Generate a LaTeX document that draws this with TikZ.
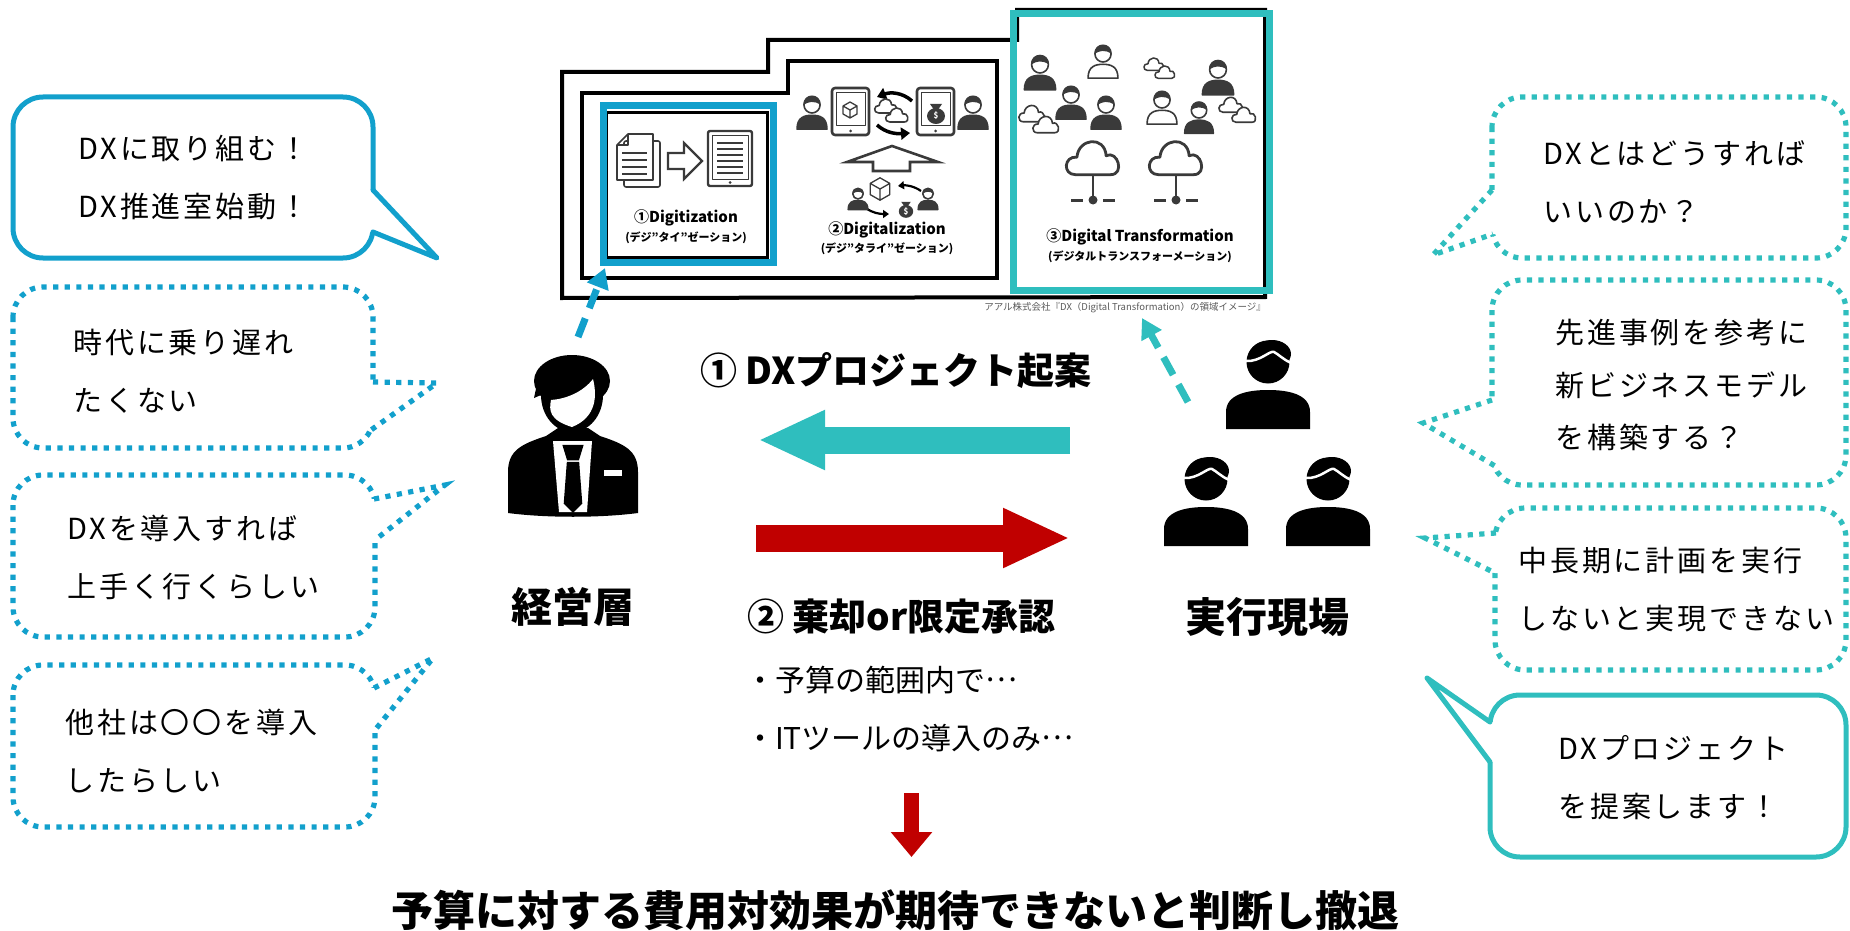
\documentclass[tikz,border=0pt]{standalone}
\usepackage{fontspec}
\setmainfont{Noto Sans CJK JP}
\newfontfamily\bubblefont[LetterSpace=10]{Noto Sans CJK JP}
\usetikzlibrary{arrows.meta}

\definecolor{dxblue}{RGB}{18,160,204}
\definecolor{dxteal}{RGB}{47,190,190}
\definecolor{dxred}{RGB}{192,0,0}
\definecolor{icongray}{RGB}{58,58,58}

\begin{document}
\begin{tikzpicture}[x=1pt,y=-1pt,
  solidbub/.style={line width=5pt,rounded corners=30pt},
  dotbub/.style={line width=5.2pt,dash pattern=on 5.2pt off 6.4pt,rounded corners=30pt},
  solidtail/.style={line width=5pt,line join=round,line cap=round},
  dottail/.style={line width=5.2pt,dash pattern=on 5.2pt off 6.4pt},
  saying/.style={anchor=west,align=left,inner sep=0pt,
    font=\bubblefont\fontsize{29}{58}\selectfont},
  role/.style={inner sep=0pt,font=\bfseries\fontsize{41}{48}\selectfont},
  flowlabel/.style={anchor=west,inner sep=0pt,font=\bfseries\fontsize{37}{44}\selectfont},
  note/.style={anchor=west,inner sep=0pt,font=\fontsize{30}{36}\selectfont},
  stagetitle/.style={inner sep=0pt,font=\bfseries\fontsize{15}{18}\selectfont},
  stagekana/.style={inner sep=0pt,font=\bfseries\fontsize{11}{13}\selectfont},
  blockarrow/.style={line width=27pt,-{Triangle[length=67pt,width=55pt]}},
  pointer/.style={line width=7pt,dash pattern=on 20pt off 11pt,-{Triangle[length=20pt,width=22pt]}},
  icon/.style={icongray,line width=1.6pt,line join=round}]
  \useasboundingbox (0,0) rectangle (1850,931);
  \def\trail{\raisebox{0.32em}{…}}

  % Left: what the management says
  \draw[solidbub,dxblue] (13,97) rectangle (373,258);
  \fill[white] (364,190) -- (373,190) -- (437,258) -- (373,232) -- (364,232) -- cycle;
  \draw[solidtail,dxblue] (373,190) -- (437,258) -- (373,232);
  \node[saying] (aim) at (78,178) {DXに取り組む！\\DX推進室始動！};

  \draw[dotbub,dxblue] (13,287) rectangle (373,448);
  \fill[white] (364,382) -- (373,382) -- (437,383) -- (371,430) -- (364,430) -- cycle;
  \draw[dottail,dxblue] (373,382) -- (437,383) -- (371,430);
  \node[saying] (fear) at (73,371) {時代に乗り遅れ\\たくない};

  \draw[dotbub,dxblue] (13,475) rectangle (375,637);
  \fill[white] (364,499) -- (374,499) -- (445,485) -- (375,540) -- (364,540) -- cycle;
  \draw[dottail,dxblue] (374,499) -- (445,485) -- (375,540);
  \node[saying] (rumour) at (67,557) {DXを導入すれば\\上手く行くらしい};

  \draw[dotbub,dxblue] (13,665) rectangle (375,827);
  \fill[white] (364,688) -- (374,688) -- (433,658) -- (375,730) -- (364,730) -- cycle;
  \draw[dottail,dxblue] (374,688) -- (433,658) -- (375,730);
  \node[saying] (rival) at (65,751) {他社は〇〇を導入\\したらしい};

  % Right: what the staff says
  \draw[dotbub,dxteal] (1492,97) rectangle (1846,258);
  \fill[white] (1501,190) -- (1492,190) -- (1433,255) -- (1493,234) -- (1501,234) -- cycle;
  \draw[dottail,dxteal] (1492,190) -- (1433,255) -- (1493,234);
  \node[saying] (how) at (1543,182) {DXとはどうすれば\\いいのか？};

  \draw[dotbub,dxteal] (1492,280) rectangle (1846,485);
  \fill[white] (1501,400) -- (1492,400) -- (1423,423) -- (1495,466) -- (1503,466) -- cycle;
  \draw[dottail,dxteal] (1492,400) -- (1423,423) -- (1495,466);
  \node[saying,font=\bubblefont\fontsize{29}{52.5}\selectfont] (model) at (1555,385)
    {先進事例を参考に\\新ビジネスモデル\\を構築する？};

  \draw[dotbub,dxteal] (1495,508) rectangle (1846,670);
  \fill[white] (1505,533) -- (1496,533) -- (1425,538) -- (1495,573) -- (1505,573) -- cycle;
  \draw[dottail,dxteal] (1496,533) -- (1425,538) -- (1495,573);
  \node[saying] (plan) at (1518,590) {中長期に計画を実行\\しないと実現できない};

  \draw[solidbub,dxteal] (1490,695) rectangle (1846,857);
  \fill[white] (1499,722) -- (1490,722) -- (1427,678) -- (1490,762) -- (1499,762) -- cycle;
  \draw[solidtail,dxteal] (1490,722) -- (1427,678) -- (1490,762);
  \node[saying] (offer) at (1558,778) {DXプロジェクト\\を提案します！};

  % Stepped frames of the three DX stages
  \draw[line width=4pt] (562,298) -- (562,72) -- (768,72) -- (768,40) -- (1017,40)
    -- (1017,10) -- (1265,10) -- (1265,297) -- cycle;
  \draw[line width=4pt] (582,278) -- (582,93) -- (788,93) -- (788,61) -- (997,61) -- (997,278) -- cycle;
  \draw[line width=3pt] (606,113) rectangle (767,257);

  % Stage 1: paper documents become a digital file
  \draw[icon,fill=white,rounded corners=2pt] (624,141) rectangle (660,187);
  \draw[icon,fill=white] (628,134) -- (653,134) -- (653,180) -- (617,180) -- (617,145) -- cycle
    (617,145) -- (628,145) -- (628,134);
  \foreach \ly in {153,160,167,174} { \draw[icon,line width=1.3pt] (622,\ly) -- (647,\ly); }
  \draw[icon,line width=2.2pt,line join=miter] (668,153) -- (684,153) -- (684,143) -- (702,161)
    -- (684,179) -- (684,169) -- (668,169) -- cycle;
  \draw[icon,line width=2.4pt,rounded corners=2pt] (708,131) rectangle (752,186);
  \draw[icon,line width=1pt] (712,136) rectangle (748,179);
  \foreach \ly in {143,149,155,161,167,173} { \draw[icon,line width=1.2pt] (717,\ly) -- (743,\ly); }
  \fill[icongray] (730,182.5) circle[radius=1.5];
  \node[stagetitle] (digitization) at (686,218) {①Digitization};
  \node[stagekana] (digitizationkana) at (686,238) {(デジ"タイ"ゼーション)};

  % Stage 2: tablets, cloud and trading arrows
  \foreach \tx in {832,917} {
    \draw[icon,line width=2.6pt,rounded corners=3pt] (\tx,88) rectangle ({\tx+37},135);
    \draw[icon,line width=1pt] ({\tx+4},93) rectangle ({\tx+33},126);
    \fill[icongray] ({\tx+18.5},131) circle[radius=1.5];
  }
  \foreach \kx/\ky/\ks in {850/110/1, 880/189/1.4} {
    \draw[icon,line width=1.3pt,fill=white] (\kx,{\ky-8*\ks}) -- ({\kx+7*\ks},{\ky-4*\ks})
      -- ({\kx+7*\ks},{\ky+4*\ks}) -- (\kx,{\ky+8*\ks}) -- ({\kx-7*\ks},{\ky+4*\ks})
      -- ({\kx-7*\ks},{\ky-4*\ks}) -- cycle
      ({\kx-7*\ks},{\ky-4*\ks}) -- (\kx,\ky) -- ({\kx+7*\ks},{\ky-4*\ks}) (\kx,\ky) -- (\kx,{\ky+8*\ks});
  }
  \foreach \gx/\gy/\gs in {936/113/1, 906/209/0.8} {
    \fill[icongray] (\gx,{\gy+3*\gs}) ellipse[x radius=9*\gs,y radius=8*\gs];
    \fill[icongray] ({\gx-6*\gs},{\gy-9*\gs}) -- ({\gx+6*\gs},{\gy-9*\gs})
      -- ({\gx+2.5*\gs},{\gy-4*\gs}) -- ({\gx-2.5*\gs},{\gy-4*\gs}) -- cycle;
    \node[text=white,inner sep=0pt,font=\bfseries\fontsize{8}{9}\selectfont] (bag-\gx) at (\gx,{\gy+3*\gs}) {\$};
  }
  \draw[line width=3.5pt,-{Triangle[length=9pt,width=12pt]}] (912,101) .. controls (902,92) and (890,92) .. (877,97);
  \draw[line width=3.5pt,-{Triangle[length=9pt,width=12pt]}] (877,125) .. controls (886,133) and (896,134) .. (910,133);
  \draw[line width=2.2pt,-{Triangle[length=6pt,width=8pt]}] (921,191) .. controls (914,186) and (906,185) .. (898,186);
  \draw[line width=2.2pt,-{Triangle[length=6pt,width=8pt]}] (866,208) .. controls (872,213) and (880,214) .. (889,214);
  \draw[icon,line width=2.6pt,line join=miter] (873,171) -- (873,162) -- (847,162) -- (892,146)
    -- (938,162) -- (910,162) -- (910,171) -- cycle;
  \node[stagetitle] (digitalization) at (887,230) {②Digitalization};
  \node[stagekana] (digitalizationkana) at (887,249) {(デジ"タライ"ゼーション)};

  % Clouds (double clouds in stages 2 and 3, large clouds with network nodes)
  \foreach \cx/\cy/\cs/\cw in {886/108/0.62/1.6, 897/117/0.62/1.6, 1154/66/0.55/1.5, 1165/74/0.55/1.5,
      1032/116/0.72/1.6, 1046/127/0.72/1.6, 1231/107/0.66/1.6, 1244/117/0.66/1.6,
      1093/163/1.46/2.8, 1176/163/1.46/2.8} {
    \filldraw[icon,fill=white,line width=\cw pt] ({\cx-12*\cs},{\cy+8*\cs})
      .. controls ({\cx-21*\cs},{\cy+8*\cs}) and ({\cx-20*\cs},{\cy-5*\cs}) .. ({\cx-11*\cs},{\cy-4*\cs})
      .. controls ({\cx-10*\cs},{\cy-17*\cs}) and ({\cx+8*\cs},{\cy-19*\cs}) .. ({\cx+9*\cs},{\cy-5*\cs})
      .. controls ({\cx+17*\cs},{\cy-9*\cs}) and ({\cx+22*\cs},{\cy+8*\cs}) .. ({\cx+12*\cs},{\cy+8*\cs}) -- cycle;
  }
  \foreach \nx in {1093,1176} {
    \draw[icon,line width=2.6pt] (\nx,175) -- (\nx,200);
    \draw[icon,line width=3pt] ({\nx-22},200) -- ({\nx-10},200) ({\nx+10},200) -- ({\nx+22},200);
    \fill[icongray] (\nx,200) circle[radius=4.5];
  }

  % Small busts of people in stages 2 and 3
  \foreach \bx/\by/\sz/\bc in {812/113/1.15/icongray, 973/113/1.15/icongray,
      858/199/0.75/icongray, 928/199/0.75/icongray,
      1040/73/1.2/icongray, 1103/62/1.15/white, 1071/103/1.15/icongray, 1106/113/1.15/icongray,
      1162/108/1.15/white, 1199/118/1.1/icongray, 1218/78/1.2/icongray} {
    \filldraw[icon,fill=\bc] ({\bx-13*\sz},{\by+14*\sz}) .. controls ({\bx-13*\sz},{\by+4*\sz})
      and ({\bx-7*\sz},{\by+2*\sz}) .. (\bx,{\by+2*\sz}) .. controls ({\bx+7*\sz},{\by+2*\sz})
      and ({\bx+13*\sz},{\by+4*\sz}) .. ({\bx+13*\sz},{\by+14*\sz}) -- cycle;
    \filldraw[icon,fill=white] (\bx,{\by-7*\sz}) circle[radius=7*\sz];
    \fill[icongray] ({\bx-7.5*\sz},{\by-7*\sz}) .. controls ({\bx-8*\sz},{\by-18*\sz})
      and ({\bx+8*\sz},{\by-18*\sz}) .. ({\bx+7.5*\sz},{\by-7*\sz})
      .. controls ({\bx+2*\sz},{\by-11*\sz}) and ({\bx-3*\sz},{\by-10*\sz}) .. cycle;
  }

  \node[stagetitle] (transformation) at (1140,237) {③Digital Transformation};
  \node[stagekana] (transformationkana) at (1140,257) {(デジタルトランスフォーメーション)};
  \draw[dxblue,line width=7pt] (603,106) rectangle (773,262);
  \draw[dxteal,line width=7pt] (1013,14) rectangle (1269,290);
  \node[anchor=east,inner sep=0pt,text=black!65,font=\fontsize{9.5}{11}\selectfont] (source)
    at (1266,308) {アアル株式会社『DX（Digital Transformation）の領域イメージ』};

  % Management figure
  \fill (508,513) -- (508,472) .. controls (508,450) and (522,444) .. (546,436)
    -- (558,428) -- (588,428) -- (600,436) .. controls (624,444) and (638,450) .. (638,472)
    -- (638,513) .. controls (600,518) and (546,518) .. (508,513) -- cycle;
  \fill (572,395) ellipse[x radius=31,y radius=37];
  \fill (572,381) ellipse[x radius=38,y radius=26];
  \fill (534,398) -- (540,370) -- (548,392) -- cycle;
  \fill[white] (551,400) .. controls (566,399) and (583,392) .. (593,379)
    .. controls (597,395) and (597,417) .. (572,427) .. controls (549,420) and (549,410) .. (551,400) -- cycle;
  \fill[white] (553,441) -- (592,441) -- (587,512) -- (559,512) -- cycle;
  \filldraw[line width=2.5pt] (564,446) -- (582,446) -- (578,459) -- (568,459) -- cycle;
  \filldraw[line width=2.5pt] (568,463) -- (578,463) -- (581,503) -- (573,511) -- (565,503) -- cycle;
  \fill[white] (604,470) rectangle (622,476);
  \node[role] (management) at (573,607) {経営層};

  % Staff figures
  \foreach \px/\py in {1268/362, 1206/479, 1328/479} {
    \fill ({\px-42},{\py+67}) -- ({\px-42},{\py+50}) .. controls ({\px-42},{\py+32}) and ({\px-20},{\py+28})
      .. (\px,{\py+28}) .. controls ({\px+20},{\py+28}) and ({\px+42},{\py+32}) .. ({\px+42},{\py+50})
      -- ({\px+42},{\py+67}) -- cycle;
    \fill (\px,\py) circle[radius=21.5];
    \fill ({\px+4},{\py-8}) ellipse[x radius=19,y radius=14];
    \draw[white,line width=2.5pt] ({\px-22},{\py-1}) .. controls ({\px-8},{\py}) and ({\px+2},{\py-12})
      .. ({\px+6},{\py-10}) .. controls ({\px+10},{\py-8}) and ({\px+16},{\py-2}) .. ({\px+23},{\py+1});
  }
  \node[role] (staff) at (1267,617) {実行現場};

  % Pointers from the two sides to the stages they aim at
  \coordinate (bossTop) at (578,337);
  \coordinate (stageOne) at (605,268);
  \draw[pointer,dxblue] (bossTop) -- (stageOne);
  \coordinate (staffTop) at (1188,402);
  \coordinate (stageThree) at (1142,318);
  \draw[pointer,dxteal] (staffTop) -- (stageThree);

  % Proposal and answer
  \node[flowlabel] (propose) at (700,371) {① DXプロジェクト起案};
  \coordinate (proposeFrom) at (1070,440);
  \coordinate (proposeTo) at (758,440);
  \draw[blockarrow,dxteal] (proposeFrom) -- (proposeTo);
  \coordinate (replyFrom) at (756,538);
  \coordinate (replyTo) at (1070,538);
  \draw[blockarrow,dxred] (replyFrom) -- (replyTo);
  \node[flowlabel] (reply) at (747,617) {② 棄却or限定承認};
  \node[note] (budget) at (745,680) {・予算の範囲内で\trail};
  \node[note] (tools) at (745,738) {・ITツールの導入のみ\trail};

  % Outcome
  \coordinate (outcomeFrom) at (911.5,793);
  \coordinate (outcomeTo) at (911.5,857);
  \draw[dxred,line width=15pt,-{Triangle[length=25pt,width=40pt]}] (outcomeFrom) -- (outcomeTo);
  \node[inner sep=0pt,font=\bfseries\fontsize{42}{48}\selectfont] (withdraw) at (895,910)
    {予算に対する費用対効果が期待できないと判断し撤退};
\end{tikzpicture}
\end{document}
